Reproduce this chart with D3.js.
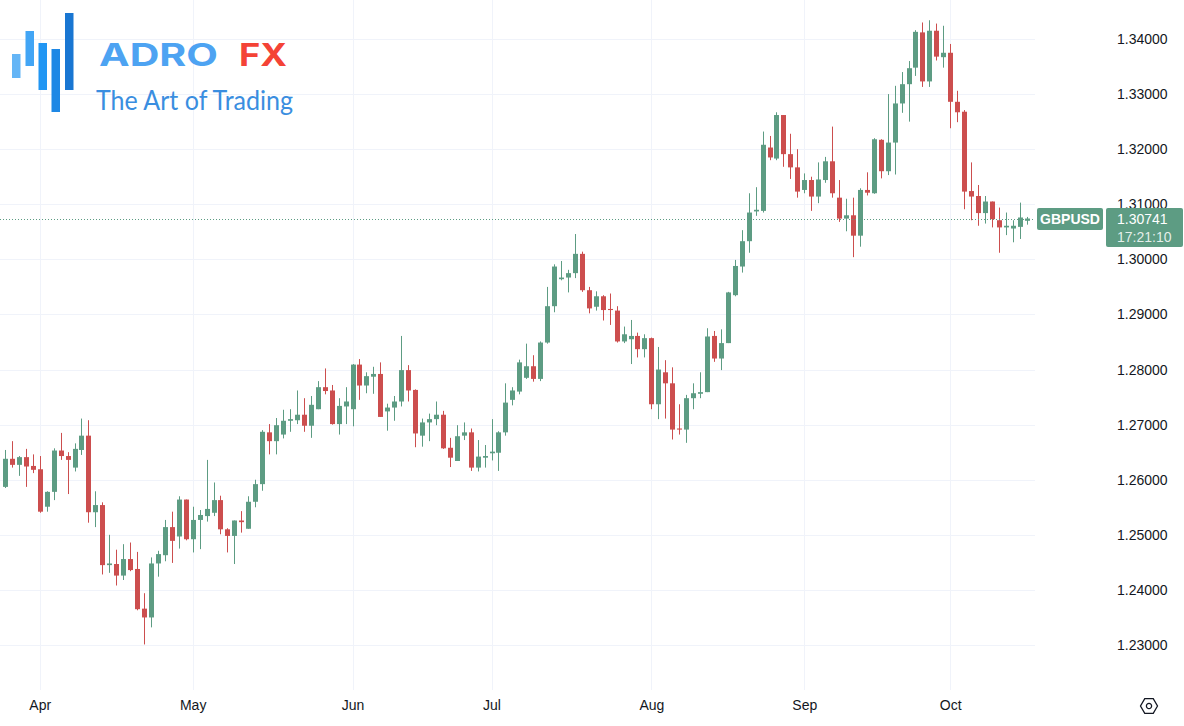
<!DOCTYPE html>
<html>
<head>
<meta charset="utf-8">
<script src="https://cdn.jsdelivr.net/npm/d3@7"></script>
<style>
  html, body { margin: 0; padding: 0; background: #fff; }
  svg { display: block; font-family: "Liberation Sans", Arial, sans-serif; }
</style>
</head>
<body>
<div id="chart"></div>
<script>
// GBPUSD daily candles, 2024-03-25 .. 2024-10-16 (weekdays)
const startDate = "2024-03-25";
const open = [
  1.2587,1.2638,1.2627,1.2641,1.2625,1.2619,1.2551,1.2578,1.2653,1.2643,
  1.2622,1.2654,1.2680,1.2541,1.2554,1.2445,1.2447,1.2426,1.2456,1.2438,
  1.2366,1.2350,1.2448,1.2463,1.2514,1.2497,1.2564,1.2492,1.2527,1.2534,
  1.2540,1.2563,1.2510,1.2498,1.2526,1.2511,1.2560,1.2592,1.2686,1.2670,
  1.2682,1.2707,1.2708,1.2718,1.2698,1.2728,1.2768,1.2762,1.2701,1.2733,
  1.2728,1.2809,1.2771,1.2787,1.2792,1.2724,1.2731,1.2742,1.2799,1.2763,
  1.2680,1.2704,1.2710,1.2718,1.2658,1.2634,1.2680,1.2686,1.2622,1.2640,
  1.2648,1.2649,1.2686,1.2745,1.2760,1.2785,1.2806,1.2783,1.2849,1.2915,
  1.2964,1.2967,1.2975,1.3010,1.2944,1.2914,1.2933,1.2910,1.2907,1.2851,
  1.2855,1.2861,1.2837,1.2857,1.2737,1.2795,1.2775,1.2693,1.2691,1.2748,
  1.2756,1.2759,1.2861,1.2820,1.2848,1.2935,1.2987,1.3033,1.3087,1.3088,
  1.3203,1.3183,1.3262,1.3191,1.3167,1.3126,1.3144,1.3114,1.3144,1.3178,
  1.3112,1.3074,1.3080,1.3043,1.3126,1.3120,1.3217,1.3160,1.3212,1.3283,
  1.3318,1.3348,1.3412,1.3323,1.3415,1.3367,1.3375,1.3286,1.3268,1.3124,
  1.3115,1.3084,1.3105,1.3071,1.3058,1.3056,1.3059,1.3070
];
const high = [
  1.2654,1.2670,1.2643,1.2656,1.2646,1.2643,1.2579,1.2657,1.2685,1.2650,
  1.2666,1.2711,1.2708,1.2579,1.2559,1.2500,1.2473,1.2483,1.2486,1.2469,
  1.2394,1.2459,1.2471,1.2527,1.2542,1.2570,1.2564,1.2551,1.2545,1.2636,
  1.2595,1.2571,1.2512,1.2526,1.2543,1.2570,1.2600,1.2690,1.2701,1.2712,
  1.2727,1.2728,1.2762,1.2748,1.2752,1.2779,1.2802,1.2772,1.2748,1.2768,
  1.2810,1.2819,1.2795,1.2805,1.2813,1.2738,1.2752,1.2861,1.2808,1.2764,
  1.2711,1.2720,1.2742,1.2725,1.2676,1.2699,1.2704,1.2693,1.2672,1.2663,
  1.2710,1.2688,1.2775,1.2768,1.2818,1.2847,1.2826,1.2851,1.2950,1.2991,
  1.2997,1.2981,1.3046,1.3014,1.2950,1.2942,1.2935,1.2938,1.2915,1.2878,
  1.2890,1.2867,1.2864,1.2858,1.2841,1.2817,1.2804,1.2737,1.2754,1.2775,
  1.2795,1.2875,1.2870,1.2873,1.2941,1.2999,1.3053,1.3120,1.3131,1.3232,
  1.3224,1.3267,1.3262,1.3228,1.3200,1.3156,1.3150,1.3176,1.3186,1.3241,
  1.3144,1.3110,1.3112,1.3129,1.3158,1.3220,1.3218,1.3300,1.3315,1.3340,
  1.3360,1.3416,1.3430,1.3434,1.3428,1.3424,1.3391,1.3306,1.3271,1.3176,
  1.3135,1.3115,1.3105,1.3094,1.3085,1.3071,1.3103,1.3077
];
const low = [
  1.2585,1.2622,1.2607,1.2587,1.2612,1.2540,1.2542,1.2563,1.2636,1.2574,
  1.2615,1.2645,1.2522,1.2514,1.2428,1.2431,1.2408,1.2418,1.2434,1.2363,
  1.2301,1.2332,1.2424,1.2452,1.2449,1.2475,1.2490,1.2468,1.2474,1.2524,
  1.2534,1.2501,1.2468,1.2447,1.2504,1.2511,1.2550,1.2580,1.2646,1.2646,
  1.2675,1.2687,1.2701,1.2687,1.2676,1.2728,1.2755,1.2700,1.2682,1.2701,
  1.2697,1.2745,1.2757,1.2756,1.2714,1.2689,1.2707,1.2733,1.2742,1.2659,
  1.2660,1.2670,1.2699,1.2656,1.2623,1.2634,1.2672,1.2616,1.2615,1.2622,
  1.2635,1.2616,1.2680,1.2735,1.2755,1.2783,1.2778,1.2779,1.2847,1.2904,
  1.2962,1.2940,1.2966,1.2941,1.2902,1.2907,1.2889,1.2881,1.2849,1.2848,
  1.2810,1.2822,1.2822,1.2728,1.2710,1.2711,1.2673,1.2682,1.2667,1.2728,
  1.2748,1.2759,1.2814,1.2799,1.2848,1.2933,1.2976,1.3012,1.3079,1.3085,
  1.3180,1.3180,1.3168,1.3146,1.3112,1.3120,1.3088,1.3102,1.3139,1.3112,
  1.3068,1.3051,1.3004,1.3023,1.3116,1.3119,1.3147,1.3153,1.3154,1.3266,
  1.3250,1.3333,1.3313,1.3313,1.3361,1.3348,1.3238,1.3249,1.3091,1.3071,
  1.3061,1.3065,1.3058,1.3012,1.3044,1.3031,1.3037,1.3063
];
const close = [
  1.2638,1.2627,1.2641,1.2624,1.2618,1.2542,1.2578,1.2653,1.2643,1.2636,
  1.2656,1.2680,1.2541,1.2554,1.2445,1.2448,1.2426,1.2456,1.2436,1.2365,
  1.2350,1.2448,1.2465,1.2514,1.2489,1.2564,1.2492,1.2527,1.2536,1.2547,
  1.2563,1.2510,1.2498,1.2526,1.2523,1.2560,1.2592,1.2687,1.2670,1.2699,
  1.2707,1.2710,1.2718,1.2698,1.2736,1.2768,1.2761,1.2701,1.2734,1.2742,
  1.2809,1.2771,1.2788,1.2792,1.2714,1.2731,1.2742,1.2799,1.2762,1.2684,
  1.2704,1.2710,1.2718,1.2657,1.2640,1.2679,1.2686,1.2622,1.2642,1.2643,
  1.2651,1.2686,1.2740,1.2762,1.2813,1.2806,1.2783,1.2849,1.2915,1.2987,
  1.2967,1.2975,1.3010,1.2944,1.2911,1.2933,1.2908,1.2908,1.2851,1.2864,
  1.2861,1.2837,1.2857,1.2737,1.2800,1.2775,1.2691,1.2691,1.2748,1.2757,
  1.2759,1.2860,1.2820,1.2848,1.2940,1.2988,1.3033,1.3085,1.3090,1.3208,
  1.3185,1.3262,1.3191,1.3167,1.3123,1.3144,1.3114,1.3145,1.3178,1.3120,
  1.3074,1.3080,1.3043,1.3126,1.3121,1.3218,1.3160,1.3212,1.3283,1.3318,
  1.3347,1.3413,1.3323,1.3415,1.3368,1.3375,1.3286,1.3267,1.3123,1.3114,
  1.3084,1.3105,1.3073,1.3058,1.3061,1.3061,1.3076,1.30741
];
const priceTicks = [1.23, 1.24, 1.25, 1.26, 1.27, 1.28, 1.29, 1.30, 1.31, 1.32, 1.33, 1.34];
const monthLabels = ["Apr", "May", "Jun", "Jul", "Aug", "Sep", "Oct"];
const symbol = "GBPUSD";
const lastPrice = 1.30741;
const countdown = "17:21:10";

const W = 1184, H = 726;
const plotRight = 1035, plotBottom = 690;
const upColor = "#5d9c83", downColor = "#cc4e4e";

// trading days (weekdays) starting from startDate
const t0 = new Date(startDate + "T00:00:00Z");
const dates = d3.utcDays(t0, d3.utcDay.offset(t0, 400))
  .filter(d => d.getUTCDay() !== 0 && d.getUTCDay() !== 6)
  .slice(0, close.length);

const candles = close.map((c, i) => ({ i, date: dates[i], o: open[i], h: high[i], l: low[i], c }));

const x = d3.scaleLinear().domain([0, candles.length - 1]).range([5, 5 + (candles.length - 1) * 6.95]);
const y = d3.scaleLinear().domain([1.23, 1.34]).range([645, 39]);

// first trading day of each month -> tick
const monthTicks = candles.filter((d, k) => k > 0 && d.date.getUTCMonth() !== candles[k - 1].date.getUTCMonth())
  .map(d => d.i);

const svg = d3.select("#chart").append("svg")
  .attr("width", W).attr("height", H)
  .attr("viewBox", `0 0 ${W} ${H}`);

svg.append("rect").attr("width", W).attr("height", H).attr("fill", "#fff");

// Grid lines
const grid = svg.append("g").attr("stroke", "#f0f3fa").attr("stroke-width", 1);
grid.selectAll(".hg").data(priceTicks).enter().append("line")
  .attr("x1", 0).attr("x2", plotRight)
  .attr("y1", d => Math.round(y(d)) + 0.5).attr("y2", d => Math.round(y(d)) + 0.5);
grid.selectAll(".vg").data(monthTicks).enter().append("line")
  .attr("x1", d => Math.round(x(d)) + 0.5).attr("x2", d => Math.round(x(d)) + 0.5)
  .attr("y1", 0).attr("y2", plotBottom);

// Logo
const logo = svg.append("g");
const logoBars = [
  { x: 12, y1: 54, y2: 78, c: "#64b5f6" },
  { x: 25.5, y1: 31, y2: 66, c: "#42a5f5" },
  { x: 38.5, y1: 43, y2: 90, c: "#2196f3" },
  { x: 51.5, y1: 49, y2: 112, c: "#1e88e5" },
  { x: 65, y1: 13, y2: 90, c: "#1976d2" }
];
logo.selectAll("rect").data(logoBars).enter().append("rect")
  .attr("x", d => d.x).attr("y", d => d.y1)
  .attr("width", 8.5).attr("height", d => d.y2 - d.y1)
  .attr("fill", d => d.c);
logo.append("text").attr("x", 99).attr("y", 65.5)
  .attr("font-family", "Inter, 'Noto Sans', sans-serif").attr("font-weight", 700)
  .attr("font-size", 31).attr("fill", "#4da3f2")
  .attr("textLength", 119).attr("lengthAdjust", "spacingAndGlyphs")
  .text("ADRO");
logo.append("text").attr("x", 239).attr("y", 65.5)
  .attr("font-family", "Inter, 'Noto Sans', sans-serif").attr("font-weight", 700)
  .attr("font-size", 31).attr("fill", "#f44336")
  .attr("textLength", 48).attr("lengthAdjust", "spacingAndGlyphs")
  .text("FX");
logo.append("text").attr("x", 96).attr("y", 110)
  .attr("font-family", "Lato, 'Open Sans', sans-serif").attr("font-weight", 400)
  .attr("font-size", 26).attr("fill", "#3a8ee0")
  .attr("textLength", 197).attr("lengthAdjust", "spacingAndGlyphs")
  .text("The Art of Trading");

// Candles
const g = svg.append("g");
const col = d => d.c >= d.o ? upColor : downColor;
g.selectAll(".wick").data(candles).enter().append("line")
  .attr("x1", d => Math.round(x(d.i)) + 0.5).attr("x2", d => Math.round(x(d.i)) + 0.5)
  .attr("y1", d => y(d.h)).attr("y2", d => y(d.l))
  .attr("stroke", col).attr("stroke-width", 1);
g.selectAll(".body").data(candles).enter().append("rect")
  .attr("x", d => Math.round(x(d.i)) - 2)
  .attr("width", 5)
  .attr("y", d => y(Math.max(d.o, d.c)))
  .attr("height", d => Math.max(1, Math.abs(y(d.o) - y(d.c))))
  .attr("fill", col);

// Last price dotted line
svg.append("line")
  .attr("x1", 0).attr("x2", plotRight)
  .attr("y1", Math.round(y(lastPrice)) + 0.5).attr("y2", Math.round(y(lastPrice)) + 0.5)
  .attr("stroke", upColor).attr("stroke-width", 1).attr("stroke-dasharray", "1,2");

// Price axis
const yAxis = svg.append("g")
  .attr("transform", "translate(1117,0)")
  .call(d3.axisRight(y).tickValues(priceTicks).tickFormat(d3.format(".5f")).tickSize(0).tickPadding(0));
yAxis.select(".domain").remove();
yAxis.selectAll("text").attr("fill", "#131722").attr("font-size", 14)
  .attr("font-family", "'Liberation Sans', Arial, sans-serif");

// Time axis
const xAxis = svg.append("g")
  .attr("transform", `translate(0,${plotBottom})`)
  .call(d3.axisBottom(x).tickValues(monthTicks).tickFormat((d, k) => monthLabels[k]).tickSize(0).tickPadding(10));
xAxis.select(".domain").remove();
xAxis.selectAll("text").attr("fill", "#131722").attr("font-size", 14)
  .attr("font-family", "'Liberation Sans', Arial, sans-serif");

// Symbol + price tags
const ty = Math.round(y(lastPrice));
const tag = svg.append("g");
tag.append("rect").attr("x", 1037).attr("y", ty - 11).attr("width", 66).attr("height", 22)
  .attr("rx", 2).attr("fill", upColor);
tag.append("text").attr("x", 1070).attr("y", ty + 5).attr("text-anchor", "middle")
  .attr("fill", "#fff").attr("font-size", 14).attr("font-weight", 700)
  .text(symbol);
tag.append("rect").attr("x", 1106).attr("y", ty - 11).attr("width", 77).attr("height", 39)
  .attr("rx", 2).attr("fill", upColor);
tag.append("text").attr("x", 1117).attr("y", ty + 5)
  .attr("fill", "#fff").attr("font-size", 14)
  .text(d3.format(".5f")(lastPrice));
tag.append("text").attr("x", 1117).attr("y", ty + 23)
  .attr("fill", "#fff").attr("fill-opacity", 0.85).attr("font-size", 14)
  .text(countdown);

// Settings icon
const ic = svg.append("g").attr("transform", "translate(1149,706)")
  .attr("fill", "none").attr("stroke", "#131722").attr("stroke-width", 1.3);
const hex = d3.range(6).map(k => {
  const a = Math.PI / 3 * k;
  return [8.5 * Math.cos(a), 8.5 * Math.sin(a)];
});
ic.append("path").attr("d", d3.line()(hex) + "Z");
ic.append("circle").attr("r", 2.6);
</script>
</body>
</html>
